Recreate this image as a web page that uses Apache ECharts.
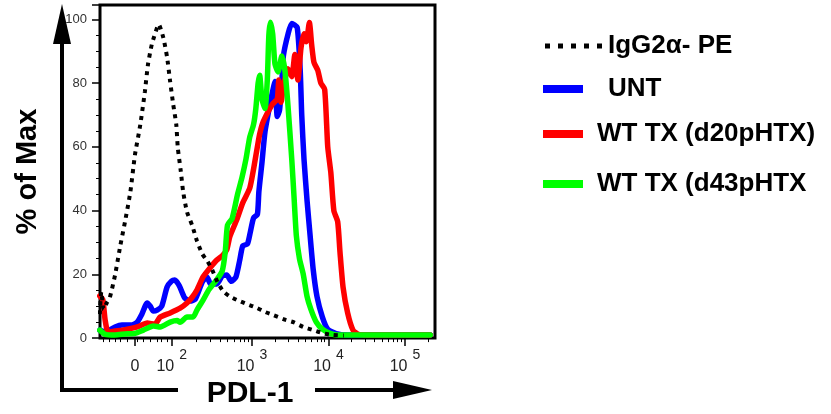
<!DOCTYPE html>
<html><head><meta charset="utf-8">
<script src="https://cdn.jsdelivr.net/npm/echarts@6/dist/echarts.min.js"></script>
<style>html,body{margin:0;padding:0;background:#fff}#c{width:831px;height:414px}</style>
</head><body><div id="c"></div>
<script>
// Series names (legend text)
const nameIgG = 'IgG2α- PE';
const nameUNT = 'UNT';
const nameD20 = 'WT TX (d20pHTX)';
const nameD43 = 'WT TX (d43pHTX';

// x values are in display units of the biexponential PDL-1 axis (10^3 = 3, 10^4 = 4 ...), y = % of Max
const iggValues = [[1.01,7.5],[1.03,14.5],[1.06,9],[1.10,11],[1.14,12.6],[1.21,19.8],[1.28,29.2],[1.34,36.5],[1.41,45.9],[1.47,57.5],[1.54,67.0],[1.60,77.4],[1.64,85.8],[1.69,92.1],[1.76,97.5],[1.78,98.4],[1.84,94.3],[1.89,88.1],[1.93,80.5],[1.97,73.3],[2.01,67.0],[2.03,59.7],[2.07,52.2],[2.10,45.9],[2.15,39.6],[2.22,35.2],[2.28,30.5],[2.35,26.4],[2.42,24.0],[2.48,21.4],[2.55,17.5],[2.62,14.8],[2.70,13.2],[2.80,12.0],[2.93,10.7],[3.07,9.4],[3.17,8.2],[3.28,7.2],[3.43,5.8],[3.55,4.9],[3.67,3.5],[3.80,2.5],[3.93,1.5],[4.05,1.0],[4.20,0.8]];
const untValues = [[1.01,2.5],[1.08,1.9],[1.21,3.5],[1.30,4.1],[1.43,4.1],[1.50,5.0],[1.56,7.5],[1.63,11.0],[1.67,10.0],[1.71,8.5],[1.76,8.8],[1.82,10.0],[1.89,16.0],[1.95,17.9],[1.99,18.2],[2.05,16.4],[2.12,12.6],[2.19,11.6],[2.26,12.3],[2.35,17.6],[2.41,19.2],[2.46,17.0],[2.54,17.0],[2.61,19.5],[2.67,19.8],[2.73,17.8],[2.79,19.2],[2.84,24.5],[2.88,29.0],[2.94,29.5],[2.98,33.5],[3.02,37.7],[3.07,38.8],[3.09,46.0],[3.13,55.0],[3.17,64.8],[3.24,74.0],[3.27,77.5],[3.30,80.5],[3.33,69.5],[3.36,71.5],[3.39,80.5],[3.41,88.5],[3.47,95.3],[3.52,98.7],[3.59,97.5],[3.63,84.0],[3.65,70.0],[3.68,56.0],[3.72,43.0],[3.76,32.0],[3.80,21.5],[3.85,13.0],[3.92,6.6],[3.99,2.8],[4.10,1.4],[4.25,1.0],[5.33,1.0]];
const d20Values = [[1.01,13.2],[1.05,12.0],[1.08,5.7],[1.12,1.9],[1.21,2.2],[1.31,2.5],[1.50,3.5],[1.63,4.7],[1.73,4.4],[1.80,6.6],[1.93,7.9],[2.06,9.4],[2.15,11.0],[2.22,12.9],[2.28,15.1],[2.36,19.2],[2.45,22.0],[2.54,24.5],[2.61,25.8],[2.67,27.7],[2.71,31.8],[2.80,37.1],[2.88,42.5],[2.97,47],[3.02,53],[3.07,60],[3.10,64],[3.14,67.5],[3.21,71],[3.27,73.5],[3.33,75],[3.35,81],[3.38,74],[3.41,79],[3.47,84.5],[3.52,82],[3.56,89],[3.60,81],[3.64,91],[3.68,95.5],[3.71,93],[3.75,99],[3.78,92],[3.81,86.5],[3.86,84],[3.90,80],[3.95,78],[3.99,60],[4.03,52],[4.07,40],[4.12,36.5],[4.15,27],[4.19,16],[4.25,7.9],[4.32,2.5],[4.39,1.2],[4.50,1.0],[5.33,1.0]];
const d43Values = [[1.01,2.5],[1.08,1.2],[1.21,1.0],[1.34,1.3],[1.47,1.5],[1.58,2.5],[1.71,3.8],[1.80,3.5],[1.93,5.0],[2.02,5.5],[2.06,5.0],[2.15,6.6],[2.23,6.6],[2.28,8.8],[2.36,11.9],[2.44,15.3],[2.53,18.0],[2.61,21.0],[2.65,27],[2.68,35.5],[2.74,37.5],[2.81,45],[2.87,50.5],[2.92,56],[2.97,63],[3.02,67],[3.05,72],[3.08,80],[3.10,82.5],[3.13,75],[3.17,72],[3.20,81],[3.22,95],[3.24,99.1],[3.27,95.5],[3.30,86],[3.34,83.5],[3.39,88.5],[3.43,84],[3.47,73],[3.52,56],[3.55,44],[3.58,32],[3.62,25],[3.67,20],[3.72,13],[3.77,9],[3.84,5],[3.92,2.8],[4.02,1.5],[4.11,1.0],[4.50,1.0],[5.33,1.0]];

// Axis ticks
const xTickValues = [1.47, 1.95, 3, 4, 5];
const xTickLabels = ['0', '10^2', '10^3', '10^4', '10^5'];
const xMinorTicks = [1.05,1.14,1.21,1.28,1.37,1.50,1.58,1.67,1.76,1.82,1.89,2.27,2.45,2.58,2.68,2.77,2.84,2.90,2.95,3.30,3.48,3.60,3.70,3.78,3.85,3.90,3.95,4.30,4.48,4.60,4.70,4.78,4.85,4.90,4.95,5.30];
const xMin = 1.013, xMax = 5.392;
const yMin = 0, yMax = 104.5, yInterval = 20;

const FONT = 'Liberation Sans, Arial, sans-serif';

function fmtX(v) {
  let i = xTickValues.findIndex(t => Math.abs(t - v) < 1e-6);
  if (i < 0) return '';
  const s = xTickLabels[i];
  if (s.indexOf('^') >= 0) {
    const p = s.split('^');
    return '{b|' + p[0] + '}{s|' + p[1] + '}';
  }
  return '{b|' + s + '}';
}

const chart = echarts.init(document.getElementById('c'), null, {renderer: 'canvas'});
const legendText = {fontSize: 26, fontWeight: 'bold', fontFamily: FONT, color: '#000'};
function lg(name, icon, left, cy, w, h, padLeft) {
  return {
    data: [{name: name, icon: icon}], left: left, top: cy - 12, orient: 'horizontal',
    itemWidth: w, itemHeight: h, padding: 0, selectedMode: false,
    itemStyle: {borderWidth: 0},
    textStyle: Object.assign({padding: [0, 0, 0, padLeft]}, legendText)
  };
}
const dotsIcon = 'path://M0,0h5v5h-5z M13,0h5v5h-5z M26,0h5v5h-5z M39,0h5v5h-5z M52,0h5v5h-5z';

chart.setOption({
  animation: false,
  backgroundColor: '#fff',
  grid: {left: 100, right: 396, top: 5, bottom: 75.5, show: true, borderColor: '#000', borderWidth: 3, backgroundColor: 'transparent'},
  legend: [
    lg(nameIgG, dotsIcon, 545, 45, 57, 5, 1),
    lg(nameUNT, 'rect', 543, 88, 40, 8, 20),
    lg(nameD20, 'rect', 543, 133, 40, 8, 9),
    lg(nameD43, 'rect', 543, 183, 40, 8, 9)
  ],
  xAxis: [{
    type: 'value', min: xMin, max: xMax, position: 'bottom',
    splitLine: {show: false}, axisLine: {show: false},
    axisTick: {show: true, customValues: xTickValues, length: 8, lineStyle: {color: '#000', width: 1.5}},
    axisLabel: {customValues: xTickValues, formatter: fmtX, margin: 15, color: '#222',
      rich: {
        b: {fontSize: 16, fontFamily: FONT, color: '#222', lineHeight: 16, padding: [10, 0, 0, 0]},
        s: {fontSize: 14, fontFamily: FONT, color: '#222', lineHeight: 14, padding: [0, 0, 12, 5]}
      }},
    name: 'PDL-1', nameLocation: 'middle', nameGap: 36,
    nameTextStyle: {fontSize: 30, fontWeight: 'bold', fontFamily: FONT, color: '#000', padding: [0, 35, 0, 0]}
  }, {
    type: 'value', min: xMin, max: xMax, position: 'bottom',
    splitLine: {show: false}, axisLine: {show: false}, axisLabel: {show: false},
    axisTick: {show: true, customValues: xMinorTicks, length: 4, lineStyle: {color: '#000', width: 1}}
  }],
  yAxis: {
    type: 'value', min: yMin, max: yMax, interval: yInterval,
    splitLine: {show: false}, axisLine: {show: false},
    axisTick: {show: true, length: 8, lineStyle: {color: '#000', width: 1.5}},
    minorTick: {show: true, splitNumber: 4, length: 4, lineStyle: {color: '#000', width: 1}},
    axisLabel: {fontSize: 13, fontFamily: FONT, color: '#333', margin: 13, showMaxLabel: false},
    name: '% of Max', nameLocation: 'middle', nameGap: 58,
    nameTextStyle: {fontSize: 29, fontWeight: 'bold', fontFamily: FONT, color: '#000'}
  },
  series: [
    {name: nameUNT, type: 'line', data: untValues, showSymbol: false, smooth: 0.2, color: '#0000ff',
     lineStyle: {color: '#0000ff', width: 5.5, join: 'round', cap: 'round'}},
    {name: nameD20, type: 'line', data: d20Values, showSymbol: false, smooth: 0.2, color: '#ff0000',
     lineStyle: {color: '#ff0000', width: 5.5, join: 'round', cap: 'round'}},
    {name: nameD43, type: 'line', data: d43Values, showSymbol: false, smooth: 0.2, color: '#00ff00',
     lineStyle: {color: '#00ff00', width: 5.5, join: 'round', cap: 'round'}},
    {name: nameIgG, type: 'line', data: iggValues, showSymbol: false, smooth: 0.2, color: '#000',
     lineStyle: {color: '#000', width: 4, type: [4, 5]}}
  ],
  graphic: [
    {type: 'line', shape: {x1: 62, y1: 390, x2: 62, y2: 40}, style: {stroke: '#000', lineWidth: 4}},
    {type: 'polygon', shape: {points: [[53, 44], [71, 44], [62, 4]]}, style: {fill: '#000'}},
    {type: 'line', shape: {x1: 60, y1: 390, x2: 178, y2: 390}, style: {stroke: '#000', lineWidth: 4}},
    {type: 'line', shape: {x1: 315, y1: 390, x2: 396, y2: 390}, style: {stroke: '#000', lineWidth: 4}},
    {type: 'polygon', shape: {points: [[393, 381], [393, 399], [432, 390]]}, style: {fill: '#000'}}
  ]
});
</script></body></html>
